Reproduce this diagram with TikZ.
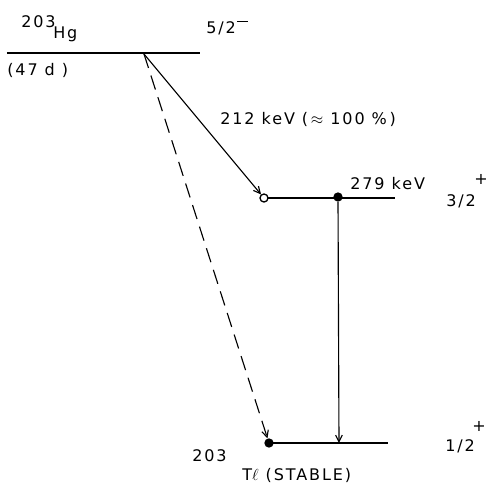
\documentclass[tikz,border=0pt]{standalone}
\usepackage{fontspec}
\setmainfont{DejaVu Sans}[LetterSpace=12]
\usetikzlibrary{arrows.meta}
\begin{document}
\begin{tikzpicture}[x=0.75pt,y=-0.75pt,
  level/.style={line width=1.6pt},
  trans/.style={line width=0.85pt,-{Straight Barb[length=5pt,width=5pt]}},
  lbl/.style={inner sep=0pt,anchor=base west,font=\fontsize{12}{14}\selectfont},
  dotf/.style={circle,fill,inner sep=0pt,minimum size=7pt},
  doto/.style={circle,draw,line width=1pt,fill=white,inner sep=0pt,minimum size=6pt}]
\useasboundingbox (0,0) rectangle (487,483);
% energy levels
\coordinate (hgL) at (7,53);   \coordinate (hgR) at (200,53);
\coordinate (src) at (144,54);
\coordinate (mL) at (264,198); \coordinate (mR) at (395,198);
\coordinate (gL) at (269,443); \coordinate (gR) at (388,443);
\draw[level] (hgL) -- (hgR);
\draw[level] (mL) -- (mR);
\draw[level] (gL) -- (gR);
% level markers
\node[doto] (m1) at (264,198) {};
\node[dotf] (m2) at (338,197) {};
\node[dotf] (g1) at (269,443) {};
\coordinate (g2) at (339,443);
% transitions
\draw[trans] (src) -- (m1);
\draw[trans,dash pattern=on 11pt off 6pt] (src) -- (g1);
\draw[trans] (m2) -- (g2);
% labels
\node[lbl] (hgA) at (21,27) {203};
\node[lbl] (hgB) at (53,38) {Hg};
\node[lbl] (hgs) at (206,33) {5/2};
\node[lbl] (hgp) at (237,22) {\rule[0pt]{8pt}{0.9pt}};
\node[lbl] (hgt) at (7,75) {(47 d )};
\node[lbl] (e1) at (220,124) {212 keV (\,$\approx$ 100 \%\,)};
\node[lbl] (e2) at (350,189) {279 keV};
\node[lbl] (ms) at (446,206) {3/2};
\node[lbl,anchor=base] (msp) at (481,184) {+};
\node[lbl] (gs) at (445,451) {1/2};
\node[lbl,anchor=base] (gsp) at (479,431) {+};
\node[lbl] (tlA) at (192,461) {203};
\node[lbl] (tlB) at (242,480) {T$\ell$ (STABLE)};
\end{tikzpicture}
\end{document}
